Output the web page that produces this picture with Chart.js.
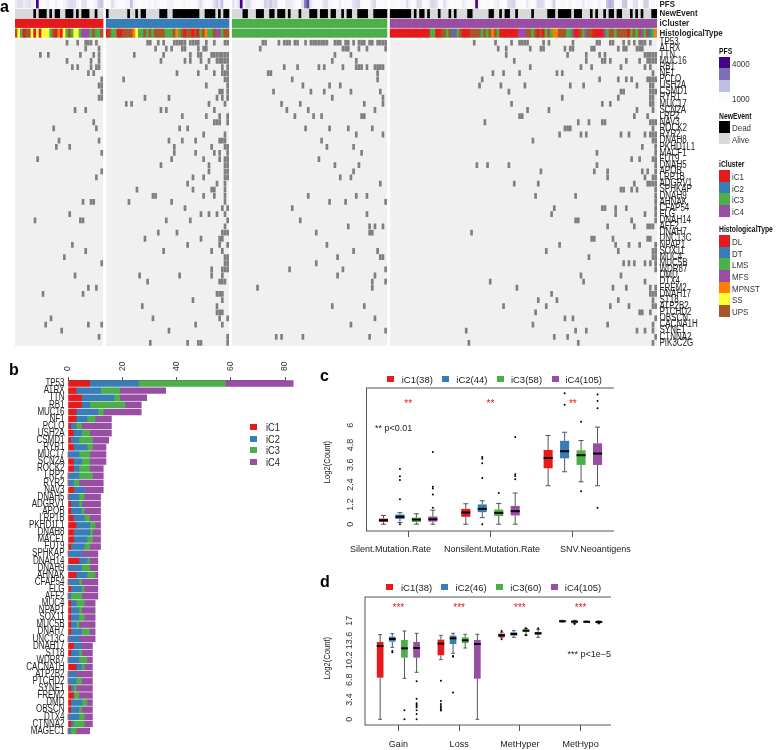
<!DOCTYPE html>
<html>
<head>
<meta charset="utf-8">
<title>Mutation landscape</title>
<script src="https://cdn.jsdelivr.net/npm/chart.js@4"></script>
<style>
  html, body { margin: 0; padding: 0; background: #fff; }
  body { position: relative; width: 782px; height: 750px; overflow: hidden; font-family: "Liberation Sans", Arial, sans-serif; color: #222; }
  canvas { position: absolute; }
  .t { position: absolute; white-space: nowrap; transform-origin: left center; }
  .s { position: absolute; }
</style>
</head>
<body>
<canvas id="anno" width="782" height="41" style="left:0;top:-1px"></canvas>
<canvas id="muts" width="782" height="320" style="left:0;top:30px"></canvas>
<canvas id="freq" width="300" height="382" style="left:0;top:355px"></canvas>
<canvas id="boxC" width="294" height="190" style="left:320px;top:370px"></canvas>
<canvas id="boxD" width="291" height="172" style="left:320px;top:578px"></canvas>
<script>
// panel a
const genes = ['TP53','ATRX','TTN','MUC16','RB1','NF1','PCLO','USH2A','CSMD1','RYR1','MUC17','SCN2A','LRP2','NAV3','ROCK2','RYR2','DNAH8','PKHD1L1','MACF1','FUT9','DNAH5','APOB','LRP1B','ADGRV1','SPHKAP','DNAH9','AHNAK','CFAP54','FLG','DNAH14','AFF2','DNAH7','UNC13C','NPAP1','SOX11','MUC4','MUC5B','WDR87','DMD','DTX4','FREM2','DNAH17','ST18','ATP2B2','PTCHD2','OBSCN','CACNA1H','SYNE1','CTNNA2','PIK3C2G'];
const clusters = ['iC1','iC2','iC3','iC4'];
const clusterSizes = [33,46,58,100];

// mutated samples per gene, index inside each cluster
const mutIC1 = [[19,23,26,27,28,30],[26,31],[9,12,24,29,31],[19,28,31],[21,23,28,30,31],[27,29],[32],[31,32],[32],[31,32],[],[22,26],[],[29],[14,30],[],[16,31],[15,20],[32],[8],[],[32],[30],[],[],[],[25,28,29],[],[20],[7,24,25],[],[],[],[21],[26],[18],[32],[],[22],[],[27,30],[10,25],[],[],[],[13],[11,27,32],[17],[31],[]];
const mutIC2 = [[15,16,19,21,25,26,27,28,29,31,32,33,34,37,40,44,45],[18,22,24,28,29,34,36,37],[10,21,31,34,35,39,40,41,42,43,44,45],[20,29,31,35,38,41,42,43,44,45],[37,43,45],[26,34,40,43,44,45],[6,44,45],[37,45],[42,43,45],[14,23,41,43,45],[7,9,38,44],[20,22,40],[28,37,42,45],[40,41,42,45],[27,30],[36,44],[23,28,33,42,43,44],[25,39,44,45],[25,33,40,42,45],[24,36,42,44,45],[20,38,44,45],[38,44,45],[32,36,44,45],[30,41,44],[11,32,39,40,44],[17,18,36,40,44],[8,24,44],[29,43,45],[35,38,41,44],[22,31,45],[44],[19,26,43,44,45],[14,35,42,43],[30,42,45],[21,39,43],[44,45],[44,45],[39,43,44,45],[12,27,39,43],[15,42,43,44],[],[41,42,43],[32,43],[13,41],[41,42,43],[17,42,45],[33,43],[23],[45],[16,30,34,35,45]];
const mutIC3 = [[11,12,17,19,20,21,23,24,27,29,30,31,32,33,34,35,38,39,40,42,43,45,47,48,49,51,52,54,55,56,57],[10,41,42,43,47,50,57],[38,44],[37,46],[19,24,32,34,41,46,47,48,50,53,54,55,56],[13,14,54],[22,54],[26,36,40],[15,29,34,44,55],[37,56],[18,25,49,56],[20,28,53],[23,30,33,48,49],[],[27,36,43,52],[46,56],[33],[35,45],[48],[32],[38,47],[45],[40,44],[55],[],[28,46,50],[36,42,57],[22],[50],[25],[43,51,53,56],[31,51,52],[],[35],[45,54],[39,55,56],[31],[21,41,57],[39,53],[52,57],[9,52],[],[],[37,49],[],[53],[44],[57],[16,18,26,51],[]];
const mutIC4 = [[31,39,45,48,49,50,51,57,59,68,77,78,82,83,87,89,91,93,94,95,97],[40,43,52,56,57,65,67,68,75,76,85,87,88,92,93,94],[43,66,73,78,80,95,96,97,98,99],[46,73,79,80,82,88,93,96,97,98,99],[52,71,75,86,95,97],[38,42,48,62,64,98],[34,78,85,88,90,96,97,98,99],[33,41,50,67,72,92,97,98],[44,86,87,97,98,99],[64,85,97,98],[45,79,82,97,98],[51,59,92,98],[48,49,91,96],[35,70,74,79,80,97,98,99],[65,66,67,98],[63,71,73,86,89,95,97,98,99],[53,98,99],[94,99],[77,99],[90,93,98,99],[32,36,44,77,99],[56,76,81,94,96,99],[81,95,98,99],[46,55,91,96,97,98,99],[86,87,90,92,99],[54,69,99],[99],[61,79,80,84,88,99],[60,84,95,99],[69,70,90,99],[81,91,96,97,98],[30],[75,76,83,96,97],[63,84,89,93,99],[58,85,98,99],[74,98,99],[87,89,91,95,97,99],[99],[71,86],[37,72,95],[47,83,88,97,99],[60,97,98,99],[55,62,85,98],[42,58,82,89,98,99],[54,93,94,97],[65,68,99],[53,81,98],[28,69,73,92,95,98],[61,66,99],[29,70,98]];

// annotation rows
const pfsIC1 = [700,1100,1100,700,900,1100,700,500,4000,400,300,300,500,300,300,600,300,300,500,700,1100,1200,1100,500,300,1000,1100,400,300,400,600,1500,1800];
const pfsIC2 = [300,400,1100,500,400,300,300,400,500,2000,600,400,300,300,400,300,500,300,500,400,300,300,300,500,600,400,300,300,400,500,300,400,300,300,600,1100,500,300,300,400,1000,1600,1000,1900,300,400];
const pfsIC3 = [1000,500,1000,4000,500,1100,1200,500,400,300,300,400,1500,1200,1700,1100,1300,400,300,300,800,800,700,400,300,300,1100,2800,3400,1000,500,400,400,400,1000,1100,500,400,300,300,700,300,400,300,400,900,1200,1300,400,300,300,300,1000,1300,300,300,300,400];
const pfsIC4 = [400,400,300,300,500,400,1100,500,300,400,1300,1200,400,300,500,1200,1300,1000,400,300,1100,500,300,300,400,300,300,800,500,300,400,500,4000,600,300,300,400,300,300,500,700,400,300,300,1200,1300,1500,500,400,300,300,800,400,300,400,1300,1200,1100,400,300,500,1500,300,300,400,400,300,500,300,300,400,300,800,300,500,400,300,300,500,400,300,1900,2200,2000,400,300,500,1700,1800,300,400,1000,1100,300,400,1500,1500,300,400,300];
const deadIC1 = [7,9,10,11,13,15,16,19,20,21,23,25,26,27,30];
const deadIC2 = [0,8,11,13,14,20,21,22,25,26,27,28,29,30,31,32,33,34,37,38,39,40,42,44,45];
const deadIC3 = [4,5,9,10,11,14,15,17,18,19,21,25,29,30,31,33,34,35,37,38,41,43,44,47,48,49,50,53,54,55,56,57];
const deadIC4 = [0,1,2,3,4,5,6,7,9,11,12,14,18,22,24,29,30,37,38,41,43,44,47,53,59,60,61,63,64,65,66,67,69,70,71,75,77,80,82,83,85,86,90,92,94,98,99];
const histIC1 = 'USLDUUSDSDSSSLUDMDSLULSSLFFFLULLU';
const histIC2 = 'DULLDDUUUUMSLLULULUUUULLLUMLUDUUDUDLUMLLUFFLUU';
const histIC3 = 'L'.repeat(58);
const histIC4 = 'DDDDDDDDDDDDDDDLLDDUULUTFLUDDDUUUULULUMULDDDDDDDFFFUULUDUDLULMMUUULLFDDULFUUDDDDFLUULUUUUDLULUFLUTLM';
const histTypes = {D:'DL',T:'DT',L:'LMS',F:'MFS',M:'MPNST',S:'SS',U:'UPS'};

// panel b
const freqGenes = ['TP53','ATRX','TTN','RB1','MUC16','NF1','PCLO','USH2A','CSMD1','RYR1','MUC17','SCN2A','ROCK2','LRP2','RYR2','NAV3','DNAH5','ADGRV1','APOB','LRP1B','PKHD1L1','DNAH8','MACF1','FUT9','SPHKAP','DNAH14','DNAH9','AHNAK','CFAP54','FLG','AFF2','MUC4','NPAP1','SOX11','MUC5B','DNAH7','UNC13C','DNAH17','ST18','WDR87','CACNA1H','ATP2B2','PTCHD2','SYNE1','FREM2','DMD','OBSCN','DTX4','CTNNA2','MAGEC1'];
const freqIC1 = [8,3,5,5,3,3,1,2,1,2,0,2,2,0,0,2,0,1,1,2,3,2,2,1,0,4,0,3,0,1,0,1,1,1,1,1,0,2,1,0,3,0,0,1,2,1,1,0,1,0];
const freqIC2 = [18,9,12,3,8,4,2,3,3,5,4,3,2,4,2,4,4,3,4,4,5,6,5,5,5,3,5,4,4,4,1,2,3,3,2,4,4,3,3,4,2,3,3,1,0,4,3,4,1,1];
const freqIC3 = [32,7,2,13,2,3,2,3,5,2,4,3,4,5,2,0,2,1,1,2,2,1,2,2,0,1,3,3,1,1,4,3,1,2,1,3,0,0,1,3,1,0,2,1,2,2,1,2,4,2];
const freqIC4 = [25,17,10,6,14,6,11,8,6,5,6,6,5,4,9,7,6,7,6,4,2,3,3,4,6,3,3,1,6,5,6,4,5,4,6,2,6,4,4,2,3,6,4,6,5,2,4,3,3,5];

// panel c, one row per cluster, one column per variable
const cGroups = ['Silent.Mutation.Rate','Nonsilent.Mutation.Rate','SNV.Neoantigens'];
const cLow  = [[0,0,2.33],[0.1,0.4,3.18],[0,0,2.57],[0,0,2.33]];
const cQ1   = [[0.14,0.45,3.39],[0.32,0.73,3.99],[0.14,0.5,3.59],[0.16,0.53,3.59]];
const cMed  = [[0.24,0.71,4.01],[0.45,0.93,4.42],[0.28,0.69,4.18],[0.3,0.79,4.28]];
const cQ3   = [[0.34,0.93,4.5],[0.59,1.2,5.05],[0.4,0.89,4.48],[0.47,1.11,4.9]];
const cHigh = [[0.53,1.24,5.37],[0.7,1.42,5.57],[0.63,1.26,5.07],[0.85,1.89,5.88]];
const cOut  = [[[],[],[]],
  [[0,1.52,2.68,2.9,3.35],[0,2.8,3.69,3.97,4.07],[7.24,7.93]],
  [[],[1.89],[2,6.2]],
  [[1,1.8,2.17,2.27,4.38],[2.72,2.92,3.02,5.29],[1,7.03,7.46,7.86]]];
const cTicks = [0,1.2,2.4,3.6,4.8,6];

// panel d
const dGroups = ['Gain','Loss','MetHyper','MetHypo'];
const dLow  = [[0,10.28,14.07,16.77],[12.4,11.37,14.13,16.54],[7.06,12.29,14.53,16.7],[8.1,0,14.13,16.6]];
const dQ1   = [[7.18,11.03,14.19,16.83],[13.38,12.98,14.42,16.66],[10.63,13.15,15.05,16.7],[10.63,7,14.59,16.65]];
const dMed  = [[12.64,13.04,14.47,16.9],[13.84,13.96,14.7,16.83],[12.23,13.61,15.28,16.8],[12.29,12.98,14.82,16.77]];
const dQ3   = [[13.33,13.73,14.76,17],[14.24,14.42,15,17],[13.67,14.13,15.5,16.89],[13.33,13.67,15.05,16.89]];
const dHigh = [[14.59,14.47,15,17.06],[14.76,14.82,15.28,17.06],[15.22,14.65,15.68,16.95],[14.82,14.65,15.5,16.95]];
const dOut  = [[[],[6.66,3.16,2.64,2.3,2,1.72,1.5],[13.8,15.2],[]],
  [[11.77,11.55],[10.91,10.8,4.6],[],[16.43]],
  [[1.55,0],[],[14.47,15.7],[]],
  [[6.55,3.56,2.76,2.53,2.3,2.07,1.55,0.92,0],[],[15.7],[16.5]]];
const dTicks = [0,3.4,6.8,10.2,13.6,17];

const clusterColors = ['#e41a1c','#377eb8','#4daf4a','#984ea3'];
const histColors = {D:'#e41a1c',T:'#377eb8',L:'#4daf4a',F:'#984ea3',M:'#ff7f00',S:'#ffff33',U:'#a65628'};
const pfsStops = [[250,[253,252,254]],[2000,[191,191,223]],[3000,[122,112,181]],[4000,[69,2,138]]];

const SANS = '"Liberation Sans", Arial, sans-serif';
Chart.defaults.animation = false;
Chart.defaults.responsive = false;
Chart.defaults.font.family = SANS;
Chart.defaults.color = '#222';
Chart.defaults.plugins.legend.display = false;
Chart.defaults.plugins.tooltip.enabled = false;

function pfsColor(v) {
  if (v <= pfsStops[0][0]) return 'rgb(' + pfsStops[0][1].join(',') + ')';
  for (let i = 1; i < pfsStops.length; i++) {
    if (v <= pfsStops[i][0]) {
      const t = (v - pfsStops[i-1][0]) / (pfsStops[i][0] - pfsStops[i-1][0]);
      const c = pfsStops[i][1].map((b, k) => Math.round(pfsStops[i-1][1][k] + (b - pfsStops[i-1][1][k]) * t));
      return 'rgb(' + c.join(',') + ')';
    }
  }
  return 'rgb(' + pfsStops[3][1].join(',') + ')';
}

// no extra room for overhanging tick labels, the chart areas are set by hand
function noOverhang(s) {
  s.paddingTop = 0; s.paddingBottom = 0; s.paddingLeft = 0; s.paddingRight = 0;
}

// the gene labels are squeezed sideways in the original, so draw them condensed
const rowLabels = {
  id: 'rowLabels',
  afterDraw(chart, args, opts) {
    const { ctx, scales } = chart;
    ctx.save();
    ctx.fillStyle = '#222';
    ctx.font = (opts.weight || 'normal') + ' ' + opts.size + 'px ' + SANS;
    ctx.textAlign = opts.align;
    ctx.textBaseline = 'middle';
    scales.y.ticks.forEach((t, i) => {
      ctx.save();
      ctx.translate(opts.x, scales.y.getPixelForTick(i));
      ctx.scale(opts.sx, 1);
      ctx.fillText(t.label, 0, 0);
      ctx.restore();
    });
    ctx.restore();
  }
};

// sample axis: clusters side by side with a small gap
const clusterGap = 1.2;
const clusterStarts = [];
let sampleEnd = 0;
clusterSizes.forEach((n, g) => { clusterStarts[g] = sampleEnd; sampleEnd += n + clusterGap; });
sampleEnd -= clusterGap;

function sampleScale() {
  return { type: 'linear', min: 0, max: sampleEnd, display: false };
}
function rowScale() {
  return {
    position: 'right',
    afterFit: s => { s.width = 125; noOverhang(s); },
    grid: { display: false, drawTicks: false },
    border: { display: false },
    ticks: { display: false, autoSkip: false }
  };
}

// panel a, annotation strips
const pfsAll = [pfsIC1, pfsIC2, pfsIC3, pfsIC4];
const deadAll = [deadIC1, deadIC2, deadIC3, deadIC4];
const histAll = [histIC1, histIC2, histIC3, histIC4];
const annoBars = [];
const annoColors = [];
clusterSizes.forEach((n, g) => {
  for (let i = 0; i < n; i++) {
    const x = clusterStarts[g] + i;
    annoBars.push({ x: [x, x + 1], y: 'PFS' }); annoColors.push(pfsColor(pfsAll[g][i]));
    annoBars.push({ x: [x, x + 1], y: 'NewEvent' }); annoColors.push(deadAll[g].includes(i) ? '#000' : '#d9d9d9');
    annoBars.push({ x: [x, x + 1], y: 'iCluster' }); annoColors.push(clusterColors[g]);
    annoBars.push({ x: [x, x + 1], y: 'HistologicalType' }); annoColors.push(histColors[histAll[g][i]]);
  }
});

new Chart(document.getElementById('anno'), {
  type: 'bar',
  data: {
    labels: ['PFS','NewEvent','iCluster','HistologicalType'],
    datasets: [{ data: annoBars, backgroundColor: annoColors, barThickness: 8.4 }]
  },
  options: {
    indexAxis: 'y',
    layout: { padding: { left: 15, top: 0, bottom: 2 } },
    scales: { x: sampleScale(), y: rowScale() },
    plugins: { rowLabels: { x: 659.5, align: 'left', size: 9.5, weight: 'bold', sx: 0.84 } }
  },
  plugins: [rowLabels]
});

// panel a, mutation matrix
const groupBg = {
  id: 'groupBg',
  beforeDatasetsDraw(chart) {
    const { ctx, chartArea, scales } = chart;
    ctx.save();
    ctx.fillStyle = '#f0f0f0';
    clusterSizes.forEach((n, g) => {
      const a = scales.x.getPixelForValue(clusterStarts[g]);
      const b = scales.x.getPixelForValue(clusterStarts[g] + n);
      ctx.fillRect(a, chartArea.top, b - a, chartArea.height);
    });
    ctx.restore();
  }
};
const mutAll = [mutIC1, mutIC2, mutIC3, mutIC4];
const mutBars = [];
genes.forEach((gene, r) => {
  mutAll.forEach((rows, g) => {
    rows[r].forEach(i => {
      mutBars.push({ x: [clusterStarts[g] + i, clusterStarts[g] + i + 1], y: gene });
    });
  });
});
new Chart(document.getElementById('muts'), {
  type: 'bar',
  data: {
    labels: genes,
    datasets: [{ data: mutBars, backgroundColor: '#7f7f7f', barThickness: 5.8, inflateAmount: 0 }]
  },
  options: {
    indexAxis: 'y',
    layout: { padding: { left: 15, top: 9.5, bottom: 4 } },
    scales: { x: sampleScale(), y: rowScale() },
    plugins: { rowLabels: { x: 659.5, align: 'left', size: 10, sx: 0.8 } }
  },
  plugins: [groupBg, rowLabels]
});

// panel b
new Chart(document.getElementById('freq'), {
  type: 'bar',
  data: {
    labels: freqGenes,
    datasets: [freqIC1, freqIC2, freqIC3, freqIC4].map((d, g) => ({
      label: clusters[g], data: d, backgroundColor: clusterColors[g], clip: false, barThickness: 5.8
    }))
  },
  options: {
    indexAxis: 'y',
    layout: { padding: { right: 15, bottom: 2.5 } },
    scales: {
      x: {
        stacked: true, position: 'top', min: 0, max: 80,
        afterFit: s => { s.height = 25; noOverhang(s); },
        border: { color: '#555' },
        grid: { drawOnChartArea: false, tickLength: 3, color: '#555' },
        ticks: { stepSize: 20, minRotation: 90, maxRotation: 90, labelOffset: 10.2, padding: 6, color: '#333', font: { size: 8.5 } }
      },
      y: {
        stacked: true,
        afterFit: s => { s.width = 68; noOverhang(s); },
        grid: { display: false, drawTicks: false },
        border: { display: false },
        ticks: { display: false, autoSkip: false }
      }
    },
    plugins: { rowLabels: { x: 64.5, align: 'right', size: 10, sx: 0.8 } }
  },
  plugins: [rowLabels]
});

// box plots: the bars are the boxes, this plugin adds whiskers, medians, outliers
const boxParts = {
  id: 'boxParts',
  afterDatasetsDraw(chart, args, opts) {
    const { ctx, chartArea, scales } = chart;
    const y = scales.y;
    ctx.save();
    chart.data.datasets.forEach((ds, s) => {
      chart.getDatasetMeta(s).data.forEach((bar, c) => {
        const w = bar.width;
        ctx.strokeStyle = '#555';
        ctx.lineWidth = 1;
        ctx.beginPath();
        ctx.moveTo(bar.x, y.getPixelForValue(opts.low[s][c]));
        ctx.lineTo(bar.x, y.getPixelForValue(opts.q1[s][c]));
        ctx.moveTo(bar.x, y.getPixelForValue(opts.q3[s][c]));
        ctx.lineTo(bar.x, y.getPixelForValue(opts.high[s][c]));
        [opts.low[s][c], opts.high[s][c]].forEach(v => {
          ctx.moveTo(bar.x - w * 0.28, y.getPixelForValue(v));
          ctx.lineTo(bar.x + w * 0.28, y.getPixelForValue(v));
        });
        ctx.stroke();
        ctx.strokeStyle = '#000';
        ctx.lineWidth = 2;
        ctx.beginPath();
        ctx.moveTo(bar.x - w / 2, y.getPixelForValue(opts.med[s][c]));
        ctx.lineTo(bar.x + w / 2, y.getPixelForValue(opts.med[s][c]));
        ctx.stroke();
        ctx.fillStyle = '#000';
        opts.out[s][c].forEach(v => {
          ctx.beginPath();
          ctx.arc(bar.x, y.getPixelForValue(v), 1, 0, Math.PI * 2);
          ctx.fill();
        });
      });
    });
    // significance stars
    ctx.fillStyle = '#e41a1c';
    ctx.font = '10px ' + SANS;
    ctx.textAlign = 'center';
    ctx.textBaseline = 'middle';
    chart.data.labels.forEach((l, c) => {
      ctx.fillText(opts.stars, scales.x.getPixelForValue(c), y.getPixelForValue(opts.starY) + 1.5);
    });
    // frame
    ctx.strokeStyle = '#555';
    ctx.lineWidth = 1;
    ctx.strokeRect(chartArea.left - opts.framePad, chartArea.top, chartArea.width + opts.framePad * 2, chartArea.height);
    ctx.restore();
  }
};

function boxChart(id, groups, q1, q3, yMin, yMax, ticks, axisW, xH, top, partOpts, barPct, xLabels) {
  return new Chart(document.getElementById(id), {
    type: 'bar',
    data: {
      labels: groups,
      datasets: clusters.map((c, s) => ({
        label: c,
        data: q1[s].map((v, i) => [v, q3[s][i]]),
        backgroundColor: clusterColors[s],
        categoryPercentage: 0.8,
        barPercentage: barPct
      }))
    },
    options: {
      layout: { padding: { top: top, left: 0, right: 0 } },
      scales: {
        x: {
          afterFit: s => { s.height = xH; noOverhang(s); },
          border: { display: false },
          grid: { offset: false, drawOnChartArea: false, tickLength: 6, color: '#555' },
          ticks: { display: xLabels, maxRotation: 0, autoSkip: false, padding: 8, color: '#222', font: { size: 9 } }
        },
        y: {
          min: yMin, max: yMax,
          afterFit: s => { s.width = axisW; noOverhang(s); },
          afterBuildTicks: s => { s.ticks = ticks.map(v => ({ value: v })); },
          border: { display: false },
          grid: { display: false, drawTicks: false },
          ticks: {
            minRotation: 90, maxRotation: 90, crossAlign: 'center', padding: 10, color: '#333',
            font: { size: 9 }, callback: v => String(v)
          }
        }
      },
      plugins: { boxParts: partOpts }
    },
    plugins: [boxParts]
  });
}

// panel c: area 367..614 x 388..531, panel d: area 368..611 x 597..725
boxChart('boxC', cGroups, cQ1, cQ3, -0.41, 8.25, cTicks, 47, 29, 18,
  { low: cLow, q1: cQ1, med: cMed, q3: cQ3, high: cHigh, out: cOut, stars: '**', starY: 7.34, framePad: 0.5 }, 0.55, false);
boxChart('boxD', dGroups, dQ1, dQ3, -0.98, 21.08, dTicks, 48, 25, 19,
  { low: dLow, q1: dQ1, med: dMed, q3: dQ3, high: dHigh, out: dOut, stars: '***', starY: 19.36, framePad: 3 }, 0.55, true);

// plain text and swatches around the charts
function text(str, x, y, size, extra, sx) {
  const d = document.createElement('div');
  d.className = 't';
  d.textContent = str;
  d.style.cssText = 'left:' + x + 'px;top:' + y + 'px;font-size:' + size + 'px;transform:translateY(-50%) scaleX(' + (sx || 1) + ');' + (extra || '');
  document.body.appendChild(d);
}
function swatch(color, x, y, w, h) {
  const d = document.createElement('div');
  d.className = 's';
  d.style.cssText = 'left:' + x + 'px;top:' + y + 'px;width:' + w + 'px;height:' + h + 'px;background:' + color;
  document.body.appendChild(d);
}
const boldLetter = 'font-weight:bold;color:#000;';
text('a', 0, 7, 16, boldLetter);
text('b', 9, 370, 16, boldLetter);
text('c', 320, 376, 16, boldLetter);
text('d', 320, 582, 16, boldLetter);

const legendHead = 'font-weight:bold;color:#111;';
const legendItem = 'color:#333;';
const headSize = 9.2, headSx = 0.74, itemSize = 9.6, itemSx = 0.83;
text('PFS', 718.5, 51, headSize, legendHead, headSx);
['#45028a','#7a70b5','#bfbfdf','#fbfafd'].forEach((c, i) => swatch(c, 718.5, 56.7 + i * 11.67, 11.7, 11.67));
text('4000', 732, 62.5, itemSize, legendItem, itemSx);
text('1000', 732, 98, itemSize, legendItem, itemSx);
text('NewEvent', 718.5, 115.7, headSize, legendHead, headSx);
['#000','#d9d9d9'].forEach((c, i) => swatch(c, 718.5, 121 + i * 11.67, 11.7, 11.67));
text('Dead', 732, 127, itemSize, legendItem, itemSx);
text('Alive', 732, 139, itemSize, legendItem, itemSx);
text('iCluster', 718.5, 164.3, headSize, legendHead, headSx);
clusters.forEach((c, i) => {
  swatch(clusterColors[i], 718.5, 170 + i * 11.67, 11.7, 11.67);
  text(c, 732, 176 + i * 11.67, itemSize, legendItem, itemSx);
});
text('HistologicalType', 718.5, 229.3, headSize, legendHead, headSx);
Object.keys(histTypes).forEach((k, i) => {
  swatch(histColors[k], 718.5, 235 + i * 11.67, 11.7, 11.67);
  text(histTypes[k], 732, 241 + i * 11.67, itemSize, legendItem, itemSx);
});

// panel b legend
clusters.forEach((c, i) => {
  swatch(clusterColors[i], 250, 424 + i * 11.7, 7, 6);
  text(c, 266, 427 + i * 11.7, 10.5, '', 0.88);
});

// panel c and d legends
const boxCounts = [['iC1(38)','iC2(44)','iC3(58)','iC4(105)'], ['iC1(38)','iC2(46)','iC3(60)','iC4(105)']];
[[379, 386.7, 401.7], [587, 386, 401]].forEach((p, k) => {
  boxCounts[k].forEach((c, i) => {
    swatch(clusterColors[i], p[1] + i * 55, p[0] - 3, 7, 6);
    text(c, p[2] + i * 54.6, p[0], 9.5);
  });
});

// axis titles
[[462], [657.5]].forEach(p => {
  const d = document.createElement('div');
  d.className = 't';
  d.textContent = 'Log2(Count)';
  d.style.cssText = 'left:326px;top:' + p[0] + 'px;font-size:9.5px;transform-origin:center;transform:translate(-50%,-50%) rotate(-90deg) scaleX(0.8);';
  document.body.appendChild(d);
});

// panel c labels sit off their ticks in the original
text('Silent.Mutation.Rate', 350, 548.7, 9);
text('Nonsilent.Mutation.Rate', 444, 548.7, 9);
text('SNV.Neoantigens', 560, 548.7, 9);
text('** p<0.01', 375, 427.7, 9);
text('*** p<1e\u22125', 567.5, 653.7, 9);
</script>
</body>
</html>
